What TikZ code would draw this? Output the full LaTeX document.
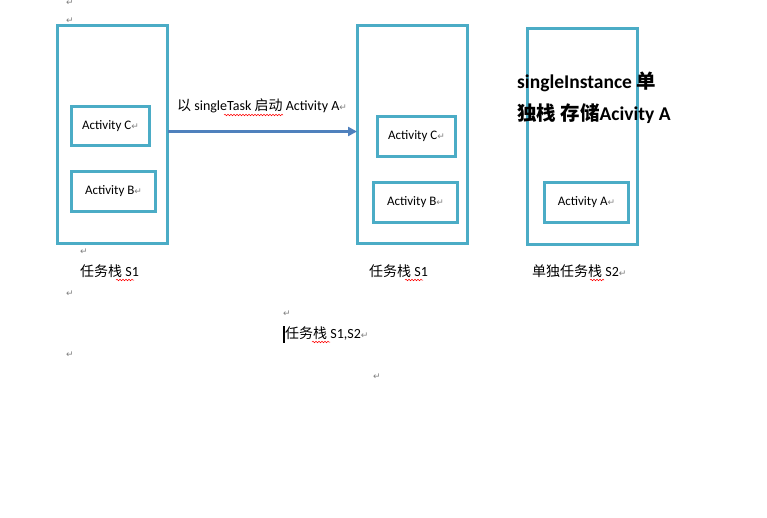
\documentclass[tikz,border=0pt]{standalone}
\usepackage{fontspec}
\setmainfont{Carlito}
\newfontfamily\cjk{Noto Sans CJK SC}
\newfontfamily\symf{DejaVu Sans}
\usetikzlibrary{arrows.meta,decorations.pathmorphing}
\definecolor{boxc}{HTML}{4BACC6}
\definecolor{arrc}{HTML}{4F81BD}
\definecolor{markc}{HTML}{808080}
\newcommand{\zh}[1]{{\cjk #1}}
\newcommand{\pmark}{{\symf\color{markc}\fontsize{9}{9}\selectfont ↵}}
\begin{document}
\begin{tikzpicture}[x=1pt,y=-1pt,
  bigbox/.style={draw=boxc,line width=3pt,minimum width=110pt,minimum height=218pt,anchor=north west,inner sep=0pt},
  actbox/.style={draw=boxc,line width=3pt,minimum height=40pt,anchor=north west,inner sep=0pt,font=\fontsize{13}{13}\selectfont},
  txt/.style={anchor=west,inner sep=0pt,font=\fontsize{14}{14}\selectfont},
  btxt/.style={anchor=west,inner sep=0pt,font=\bfseries\fontsize{19.5}{19.5}\selectfont},
  pmk/.style={anchor=west,inner sep=0pt},
  squig/.style={draw=red,line width=0.5pt,decorate,decoration={snake,amplitude=0.8pt,segment length=3pt}}]
\useasboundingbox[fill=white] (0,0) rectangle (767,517);
% big boxes
\node[bigbox] (s1) at (56,24) {};
\node[bigbox] (s1b) at (356,24) {};
\node[bigbox,minimum height=216pt] (s2) at (526,27) {};
% activity boxes
\node[actbox,minimum width=78pt,minimum height=39pt] (c1) at (70,105) {Activity C\pmark};
\node[actbox,minimum width=84pt] (b1) at (70,170) {Activity B\pmark};
\node[actbox,minimum width=78pt] (c2) at (376,115) {Activity C\pmark};
\node[actbox,minimum width=84pt] (b2) at (372,181) {Activity B\pmark};
\node[actbox,minimum width=84pt] (a2) at (543,181) {Activity A\pmark};
% arrow
\coordinate (as) at (168,131.5);
\coordinate (ae) at (357,131.5);
\draw[draw=arrc,line width=3pt,-{Triangle[length=9pt,width=9pt,fill=arrc]}] (as) -- (ae);
% texts
\node[txt] (lbl) at (177,106) {\zh{以} singleTask \zh{启动} Activity A\pmark};
\node[btxt] (si1) at (517,82) {singleInstance \zh{单}};
\node[btxt] (si2) at (517,114) {\zh{独栈} \zh{存储}Acivity A};
\node[txt] (t1) at (80,271) {\zh{任务栈} S1};
\node[txt] (t2) at (369,271) {\zh{任务栈} S1};
\node[txt] (t3) at (532,271) {\zh{单独任务栈} S2\pmark};
\node[txt] (t4) at (285,334) {\zh{任务栈} S1,S2\pmark};
\draw[black,line width=2pt] (284,326) -- (284,343);
% squiggles
\draw[squig] (224,115) -- (283,115);
\draw[squig] (116,280) -- (134,280);
\draw[squig] (405,280) -- (423,280);
\draw[squig] (590,280) -- (604,280);
\draw[squig] (312,342) -- (330,342);
% paragraph marks
\node[pmk] (m1) at (66,3) {\pmark};
\node[pmk] (m2) at (66,21) {\pmark};
\node[pmk] (m3) at (80,252) {\pmark};
\node[pmk] (m4) at (66,294) {\pmark};
\node[pmk] (m5) at (283,314) {\pmark};
\node[pmk] (m6) at (66,355) {\pmark};
\node[pmk] (m7) at (373,377) {\pmark};
\end{tikzpicture}
\end{document}
